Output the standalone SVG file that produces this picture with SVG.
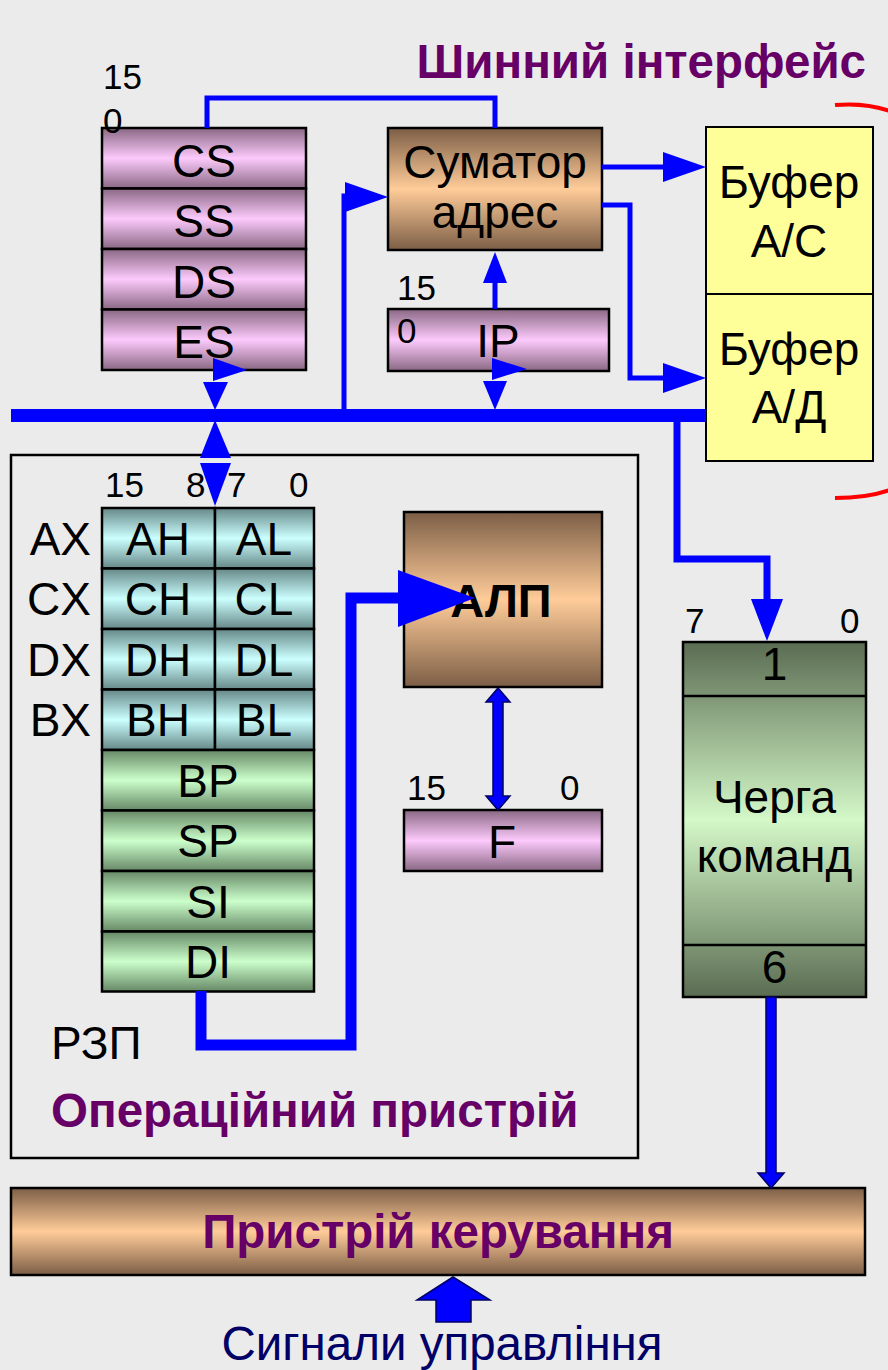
<svg xmlns="http://www.w3.org/2000/svg" width="888" height="1370" viewBox="0 0 888 1370">
<defs>
<linearGradient id="gPink" x1="0" y1="0" x2="0" y2="1"><stop offset="0" stop-color="#8a6884"/><stop offset="0.5" stop-color="#fccafc"/><stop offset="1" stop-color="#8a6884"/></linearGradient>
<linearGradient id="gBrown" x1="0" y1="0" x2="0" y2="1"><stop offset="0" stop-color="#7c5e46"/><stop offset="0.5" stop-color="#ffcc99"/><stop offset="1" stop-color="#7c5e46"/></linearGradient>
<linearGradient id="gTeal" x1="0" y1="0" x2="0" y2="1"><stop offset="0" stop-color="#668888"/><stop offset="0.5" stop-color="#ccffff"/><stop offset="1" stop-color="#668888"/></linearGradient>
<linearGradient id="gGreen" x1="0" y1="0" x2="0" y2="1"><stop offset="0" stop-color="#668866"/><stop offset="0.5" stop-color="#ccffcc"/><stop offset="1" stop-color="#668866"/></linearGradient>
<linearGradient id="gQueue" x1="0" y1="0" x2="0" y2="1"><stop offset="0" stop-color="#5a6c52"/><stop offset="0.5" stop-color="#d4f8c8"/><stop offset="1" stop-color="#5a6c52"/></linearGradient>
<style>
.box{stroke:#000;stroke-width:2.5}
.t{font-family:"Liberation Sans",Arial,sans-serif;font-size:46px;fill:#000}
.n{font-size:35px}
.c{text-anchor:middle}
.e{text-anchor:end}
.b{font-weight:bold;fill:#660066;font-size:47.5px}
.wire{fill:none;stroke:#0000ff;stroke-width:5}
.head{fill:#0000ff}
.blk{fill:#0000ff;stroke:#000066;stroke-width:1.5}
</style>
</defs>
<rect width="888" height="1370" fill="#ebebeb"/>

<text class="t b e" x="866" y="78">Шинний інтерфейс</text>

<g id="op-device">
<rect x="11" y="455" width="627" height="703" fill="none" stroke="#000" stroke-width="2.5"/>
<text class="t b" x="51" y="1127">Операційний пристрій</text>
<text class="t" x="51" y="1059">РЗП</text>
</g>

<g id="segment-regs">
<rect class="box" x="102" y="128" width="204" height="60.5" fill="url(#gPink)"/>
<rect class="box" x="102" y="188.5" width="204" height="60.5" fill="url(#gPink)"/>
<rect class="box" x="102" y="249" width="204" height="60.5" fill="url(#gPink)"/>
<rect class="box" x="102" y="309.5" width="204" height="60.5" fill="url(#gPink)"/>
<text class="t c" x="204" y="177">CS</text>
<text class="t c" x="204" y="237">SS</text>
<text class="t c" x="204" y="298">DS</text>
<text class="t c" x="204" y="358">ES</text>
<text class="t n" x="103" y="89">15</text>
<text class="t n" x="103" y="133">0</text>
</g>

<g id="adder">
<rect class="box" x="388" y="128" width="214" height="122" fill="url(#gBrown)"/>
<text class="t c" x="495" y="178">Суматор</text>
<text class="t c" x="495" y="228">адрес</text>
</g>

<g id="ip">
<rect class="box" x="388" y="309" width="221" height="62" fill="url(#gPink)"/>
<text class="t c" x="498" y="357">IP</text>
<text class="t n" x="397" y="343">0</text>
<text class="t n" x="397" y="300">15</text>
</g>

<g id="buffer-ac">
<rect x="706" y="127" width="167" height="167" fill="#ffff99" stroke="#000" stroke-width="2"/>
<text class="t c" x="789" y="198">Буфер</text>
<text class="t c" x="789" y="257">А/С</text>
</g>
<g id="buffer-ad">
<rect x="706" y="294" width="167" height="167" fill="#ffff99" stroke="#000" stroke-width="2"/>
<text class="t c" x="789" y="365">Буфер</text>
<text class="t c" x="789" y="423">А/Д</text>
</g>

<g id="bracket" fill="none" stroke="#ff0000" stroke-width="4">
<path d="M835,105 C858,103 878,106 895,113"/>
<path d="M835,498 C858,498 878,495 895,488"/>
</g>

<g id="gp-regs">
<rect class="box" x="102" y="508" width="113" height="60.5" fill="url(#gTeal)"/>
<rect class="box" x="215" y="508" width="99" height="60.5" fill="url(#gTeal)"/>
<rect class="box" x="102" y="568.5" width="113" height="60.5" fill="url(#gTeal)"/>
<rect class="box" x="215" y="568.5" width="99" height="60.5" fill="url(#gTeal)"/>
<rect class="box" x="102" y="629" width="113" height="60.5" fill="url(#gTeal)"/>
<rect class="box" x="215" y="629" width="99" height="60.5" fill="url(#gTeal)"/>
<rect class="box" x="102" y="689.5" width="113" height="60.5" fill="url(#gTeal)"/>
<rect class="box" x="215" y="689.5" width="99" height="60.5" fill="url(#gTeal)"/>
<rect class="box" x="102" y="750" width="212" height="60.5" fill="url(#gGreen)"/>
<rect class="box" x="102" y="810.5" width="212" height="60.5" fill="url(#gGreen)"/>
<rect class="box" x="102" y="871" width="212" height="60.5" fill="url(#gGreen)"/>
<rect class="box" x="102" y="931.5" width="212" height="60" fill="url(#gGreen)"/>
<text class="t c" x="158" y="555">AH</text>
<text class="t c" x="264" y="555">AL</text>
<text class="t c" x="158" y="615">CH</text>
<text class="t c" x="264" y="615">CL</text>
<text class="t c" x="158" y="676">DH</text>
<text class="t c" x="264" y="676">DL</text>
<text class="t c" x="158" y="736">BH</text>
<text class="t c" x="264" y="736">BL</text>
<text class="t c" x="208" y="797">BP</text>
<text class="t c" x="208" y="857">SP</text>
<text class="t c" x="208" y="918">SI</text>
<text class="t c" x="208" y="978">DI</text>
<text class="t e" x="91" y="555">AX</text>
<text class="t e" x="91" y="615">CX</text>
<text class="t e" x="91" y="676">DX</text>
<text class="t e" x="91" y="736">BX</text>
<text class="t n" x="105" y="497">15</text>
<text class="t n" x="186" y="497">8</text>
<text class="t n" x="227" y="497">7</text>
<text class="t n" x="289" y="497">0</text>
</g>

<g id="alu">
<rect class="box" x="404" y="512" width="198" height="175" fill="url(#gBrown)"/>
<text class="t c" x="501" y="617" font-weight="bold" style="font-size:47px">АЛП</text>
</g>

<g id="flags">
<rect class="box" x="404" y="810" width="198" height="61" fill="url(#gPink)"/>
<text class="t c" x="502" y="858">F</text>
<text class="t n" x="407" y="800">15</text>
<text class="t n" x="560" y="800">0</text>
</g>

<g id="queue">
<rect class="box" x="683" y="642" width="183" height="355" fill="url(#gQueue)"/>
<line x1="683" y1="696" x2="866" y2="696" stroke="#000" stroke-width="2.5"/>
<line x1="683" y1="945" x2="866" y2="945" stroke="#000" stroke-width="2.5"/>
<text class="t c" x="774.5" y="680">1</text>
<text class="t c" x="774.5" y="813">Черга</text>
<text class="t c" x="774.5" y="872">команд</text>
<text class="t c" x="774.5" y="983">6</text>
<text class="t n" x="685" y="633">7</text>
<text class="t n" x="840" y="633">0</text>
</g>

<g id="control">
<rect class="box" x="11" y="1188" width="854" height="87" fill="url(#gBrown)"/>
<text class="t b c" x="438" y="1248">Пристрій керування</text>
</g>

<text class="t c" x="442" y="1360" style="fill:#000066;font-size:47.5px">Сигнали управління</text>

<g id="connectors">
<path class="wire" d="M207,128 V98 H495 V128"/>
<path class="wire" d="M602,167 H666"/>
<polygon class="head" points="663,152 706,167 663,182"/>
<path class="wire" d="M602,205 H630 V378 H666"/>
<polygon class="head" points="663,363 706,378 663,393"/>
<path class="wire" d="M344,415 V196 H350"/>
<polygon class="head" points="345,182 388,197 345,212"/>
<path d="M11,415.5 H706" stroke="#0000ff" stroke-width="13" fill="none"/>
<path class="wire" d="M495,309 V280"/>
<polygon class="head" points="483,283 507,283 495,252"/>
<polygon class="head" points="492,358 527,369 492,380"/>
<polygon class="head" points="483,381 507,381 495,410"/>
<polygon class="head" points="213,358 247,370 213,381"/>
<polygon class="head" points="203,382 228,382 215,410"/>
<polygon class="head" points="215,420 200,458 231,458"/>
<polygon class="head" points="200,463 231,463 215,506"/>
<path class="wire" d="M677,420 V559 H767 V602" style="stroke-width:7"/>
<polygon class="head" points="751,599 783,599 767,641"/>
<path class="wire" d="M201,991 V1045 H351 V598 H402" style="stroke-width:11"/>
<polygon class="head" points="398,570 475,598 398,627"/>
<polygon class="blk" points="498,688 486,702 493,702 493,796 486,796 498,810 510,796 503,796 503,702 510,702"/>
<polygon class="blk" points="766,997 776,997 776,1173 784,1173 771,1188 758,1173 766,1173"/>
<polygon class="blk" points="453,1277 490,1300 471,1300 471,1322 436,1322 436,1300 417,1300"/>
</g>
</svg>
